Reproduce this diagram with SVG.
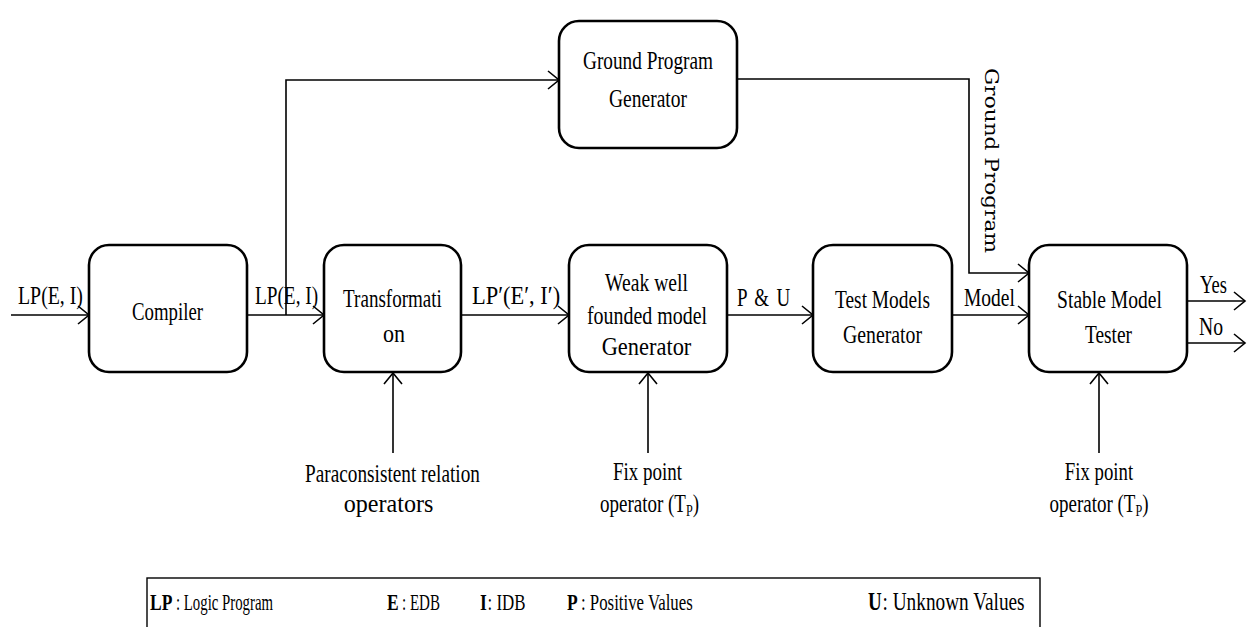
<svg xmlns="http://www.w3.org/2000/svg" width="1250" height="627" viewBox="0 0 1250 627">
  <style>
    .box { fill: #fff; stroke: #000; stroke-width: 2.6; }
    .wire { fill: none; stroke: #000; stroke-width: 1.6; }
    .t { font-family: "Liberation Serif", "Times New Roman", serif; font-size: 25px; fill: #000; }
    .lg { font-family: "Liberation Serif", "Times New Roman", serif; font-size: 23px; fill: #000; }
    .m { text-anchor: middle; }
    .vt { font-family: "DejaVu Serif", "Liberation Serif", serif; font-size: 19px; fill: #000; }
    .b { font-weight: bold; }
  </style>
  <defs>
    <marker id="arrow" markerUnits="userSpaceOnUse" markerWidth="14" markerHeight="20" refX="12" refY="10" orient="auto">
      <path d="M1,1 L12,10 L1,19" fill="none" stroke="#000" stroke-width="1.6"/>
    </marker>
  </defs>

  <rect width="1250" height="627" fill="#fff"/>

  <!-- connectors -->
  <g id="connectors" class="wire">
    <line x1="11" y1="315" x2="89" y2="315" marker-end="url(#arrow)"/>
    <line x1="247" y1="315" x2="324" y2="315" marker-end="url(#arrow)"/>
    <polyline points="286,315 286,80 559,80" marker-end="url(#arrow)"/>
    <line x1="461" y1="315" x2="569" y2="315" marker-end="url(#arrow)"/>
    <line x1="727" y1="315" x2="813" y2="315" marker-end="url(#arrow)"/>
    <line x1="952" y1="315" x2="1029" y2="315" marker-end="url(#arrow)"/>
    <polyline points="737,79 969,79 969,273 1029,273" marker-end="url(#arrow)"/>
    <line x1="1187" y1="301" x2="1245" y2="301" marker-end="url(#arrow)"/>
    <line x1="1187" y1="343" x2="1245" y2="343" marker-end="url(#arrow)"/>
    <line x1="393" y1="453" x2="393" y2="373" marker-end="url(#arrow)"/>
    <line x1="648" y1="453" x2="648" y2="373" marker-end="url(#arrow)"/>
    <line x1="1099" y1="453" x2="1099" y2="373" marker-end="url(#arrow)"/>
  </g>

  <!-- connector labels (Times, horizontally condensed) -->
  <g id="edge-labels" class="t">
    <text transform="translate(18,304) scale(0.76,1)" textLength="85.5" lengthAdjust="spacingAndGlyphs">LP(E, I)</text>
    <text transform="translate(255,304) scale(0.76,1)" textLength="83" lengthAdjust="spacingAndGlyphs">LP(E, I)</text>
    <text transform="translate(472,304) scale(0.76,1)" textLength="116" lengthAdjust="spacingAndGlyphs">LP′(E′, I′)</text>
    <text transform="translate(737,306) scale(0.76,1)" textLength="70" lengthAdjust="spacing">P &amp; U</text>
    <text transform="translate(964,306) scale(0.76,1)" textLength="67" lengthAdjust="spacingAndGlyphs">Model</text>
    <text transform="translate(1200,293) scale(0.76,1)" textLength="35.5" lengthAdjust="spacingAndGlyphs">Yes</text>
    <text transform="translate(1199,335) scale(0.76,1)" textLength="31.6" lengthAdjust="spacingAndGlyphs">No</text>
    <text class="vt" transform="translate(985,68) rotate(90)" textLength="185" lengthAdjust="spacingAndGlyphs">Ground Program</text>
  </g>

  <!-- nodes -->
  <g id="ground-program-generator">
    <rect class="box" x="559" y="21" width="178" height="127" rx="20"/>
    <text class="t m" transform="translate(648,69) scale(0.76,1)" textLength="171" lengthAdjust="spacingAndGlyphs">Ground Program</text>
    <text class="t m" transform="translate(648,107) scale(0.76,1)" textLength="102.6" lengthAdjust="spacingAndGlyphs">Generator</text>
  </g>

  <g id="compiler">
    <rect class="box" x="89" y="245" width="158" height="127" rx="20"/>
    <text class="t m" transform="translate(167.5,320) scale(0.76,1)" textLength="93.4" lengthAdjust="spacingAndGlyphs">Compiler</text>
  </g>

  <g id="transformation">
    <rect class="box" x="324" y="245" width="137" height="127" rx="20"/>
    <text class="t m" transform="translate(392.5,307) scale(0.76,1)" textLength="130" lengthAdjust="spacingAndGlyphs">Transformati</text>
    <text class="t m" transform="translate(394,342) scale(0.76,1)" textLength="29" lengthAdjust="spacingAndGlyphs">on</text>
  </g>

  <g id="weak-wf-generator">
    <rect class="box" x="569" y="245" width="158" height="127" rx="20"/>
    <text class="t m" transform="translate(646.5,291) scale(0.76,1)" textLength="109" lengthAdjust="spacingAndGlyphs">Weak well</text>
    <text class="t m" transform="translate(647,324) scale(0.76,1)" textLength="158" lengthAdjust="spacingAndGlyphs">founded model</text>
    <text class="t m" transform="translate(646.5,355) scale(0.76,1)" textLength="118" lengthAdjust="spacingAndGlyphs">Generator</text>
  </g>

  <g id="test-models-generator">
    <rect class="box" x="813" y="245" width="139" height="127" rx="20"/>
    <text class="t m" transform="translate(882.5,308) scale(0.76,1)" textLength="125" lengthAdjust="spacingAndGlyphs">Test Models</text>
    <text class="t m" transform="translate(882.5,343) scale(0.76,1)" textLength="104" lengthAdjust="spacingAndGlyphs">Generator</text>
  </g>

  <g id="stable-model-tester">
    <rect class="box" x="1029" y="245" width="158" height="127" rx="20"/>
    <text class="t m" transform="translate(1109.5,308) scale(0.76,1)" textLength="138" lengthAdjust="spacingAndGlyphs">Stable Model</text>
    <text class="t m" transform="translate(1108.5,343) scale(0.76,1)" textLength="62" lengthAdjust="spacingAndGlyphs">Tester</text>
  </g>

  <!-- operator inputs -->
  <g id="paraconsistent-operators">
    <text class="t m" transform="translate(392.5,482) scale(0.76,1)" textLength="230" lengthAdjust="spacingAndGlyphs">Paraconsistent relation</text>
    <text class="t m" transform="translate(388.5,512) scale(0.76,1)" textLength="118" lengthAdjust="spacingAndGlyphs">operators</text>
  </g>

  <g id="fixpoint-operator-1">
    <text class="t m" transform="translate(647.5,480) scale(0.76,1)" textLength="91" lengthAdjust="spacingAndGlyphs">Fix point</text>
    <text class="t m" transform="translate(649.5,512) scale(0.76,1)">operator (T<tspan font-size="16" dy="4">P</tspan><tspan dy="-4">)</tspan></text>
  </g>

  <g id="fixpoint-operator-2">
    <text class="t m" transform="translate(1099,480) scale(0.76,1)" textLength="90" lengthAdjust="spacingAndGlyphs">Fix point</text>
    <text class="t m" transform="translate(1099,512) scale(0.76,1)">operator (T<tspan font-size="16" dy="4">P</tspan><tspan dy="-4">)</tspan></text>
  </g>

  <!-- legend: bold key followed by its meaning -->
  <g id="legend">
    <rect x="147" y="578" width="893" height="80" fill="none" stroke="#000" stroke-width="1.4"/>
    <text class="lg b" transform="translate(150,610) scale(0.76,1)">LP</text>
    <text class="lg" transform="translate(176,610) scale(0.76,1)" textLength="127.6" lengthAdjust="spacingAndGlyphs">: Logic Program</text>
    <text class="lg b" transform="translate(387,610) scale(0.76,1)">E</text>
    <text class="lg" transform="translate(402,610) scale(0.76,1)" textLength="50" lengthAdjust="spacingAndGlyphs">: EDB</text>
    <text class="lg b" transform="translate(480,610) scale(0.76,1)">I</text>
    <text class="lg" transform="translate(487.5,610) scale(0.76,1)" textLength="50" lengthAdjust="spacingAndGlyphs">: IDB</text>
    <text class="lg b" transform="translate(567,610) scale(0.76,1)">P</text>
    <text class="lg" transform="translate(581,610) scale(0.76,1)" textLength="147" lengthAdjust="spacingAndGlyphs">: Positive Values</text>
    <text class="t b" transform="translate(868,610) scale(0.76,1)">U</text>
    <text class="t" transform="translate(882.5,610) scale(0.76,1)" textLength="187" lengthAdjust="spacingAndGlyphs">: Unknown Values</text>
  </g>
</svg>
